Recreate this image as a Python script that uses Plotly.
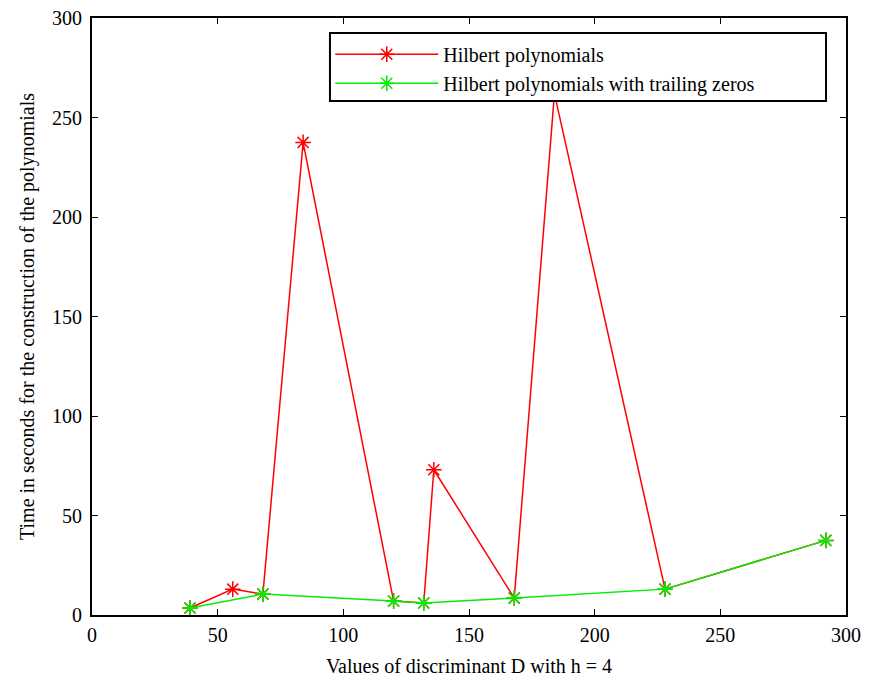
import plotly.graph_objects as go

red_x = [39, 56, 68, 84, 120, 132, 136, 168, 184, 228, 292]
red_y = [3.5, 13, 10.5, 237.5, 7, 6, 73, 8.5, 262, 13, 37.5]
green_x = [39, 68, 120, 132, 168, 228, 292]
green_y = [3.5, 10.5, 7, 6, 8.5, 13, 37.5]

font = "Liberation Serif, Times New Roman, serif"

fig = go.Figure()
fig.add_trace(go.Scatter(x=red_x, y=red_y, mode="lines+markers", name="Hilbert polynomials",
                         line=dict(color="#ff0000", width=1.5),
                         marker=dict(symbol="asterisk-open", size=13, color="#ff0000", line=dict(width=1.5, color="#ff0000"))))
fig.add_trace(go.Scatter(x=green_x, y=green_y, mode="lines+markers", name="Hilbert polynomials with trailing zeros",
                         line=dict(color="#00ee00", width=1.5),
                         marker=dict(symbol="asterisk-open", size=13, color="#00ee00", line=dict(width=1.5, color="#00ee00"))))

axis_common = dict(showgrid=False, zeroline=False, showline=True, linecolor="black", linewidth=2,
                   mirror="ticks", ticks="inside", ticklen=6, tickwidth=1, tickcolor="black",
                   automargin=False, ticklabeloverflow="allow",
                   tickfont=dict(family=font, size=20, color="black"))

# legend frame drawn as a shape so its size matches the reference box
fig.add_shape(type="rect", xref="paper", yref="paper", x0=0.3156, x1=0.9735, y0=0.861, y1=0.975,
              fillcolor="white", line=dict(color="black", width=2), layer="above")

fig.update_layout(
    width=853, height=669,
    margin=dict(l=84, r=15, t=10, b=62, autoexpand=False),
    paper_bgcolor="white", plot_bgcolor="white",
    font=dict(family=font, size=20, color="black"),
    xaxis=dict(range=[0, 300], dtick=50, ticklabelstandoff=1,
               title=dict(text="Values of discriminant D with h = 4", font=dict(family=font, size=20)), **axis_common),
    yaxis=dict(range=[0, 300], dtick=50, ticklabelstandoff=4,
               title=dict(text="Time in seconds for the construction of the polynomials", font=dict(family=font, size=20), standoff=12), **axis_common),
    legend=dict(x=0.316, y=0.972, xanchor="left", yanchor="top", bgcolor="rgba(0,0,0,0)", borderwidth=0,
                font=dict(family=font, size=20), itemwidth=103, tracegroupgap=0),
    showlegend=True,
)
fig.write_html("out.html")
